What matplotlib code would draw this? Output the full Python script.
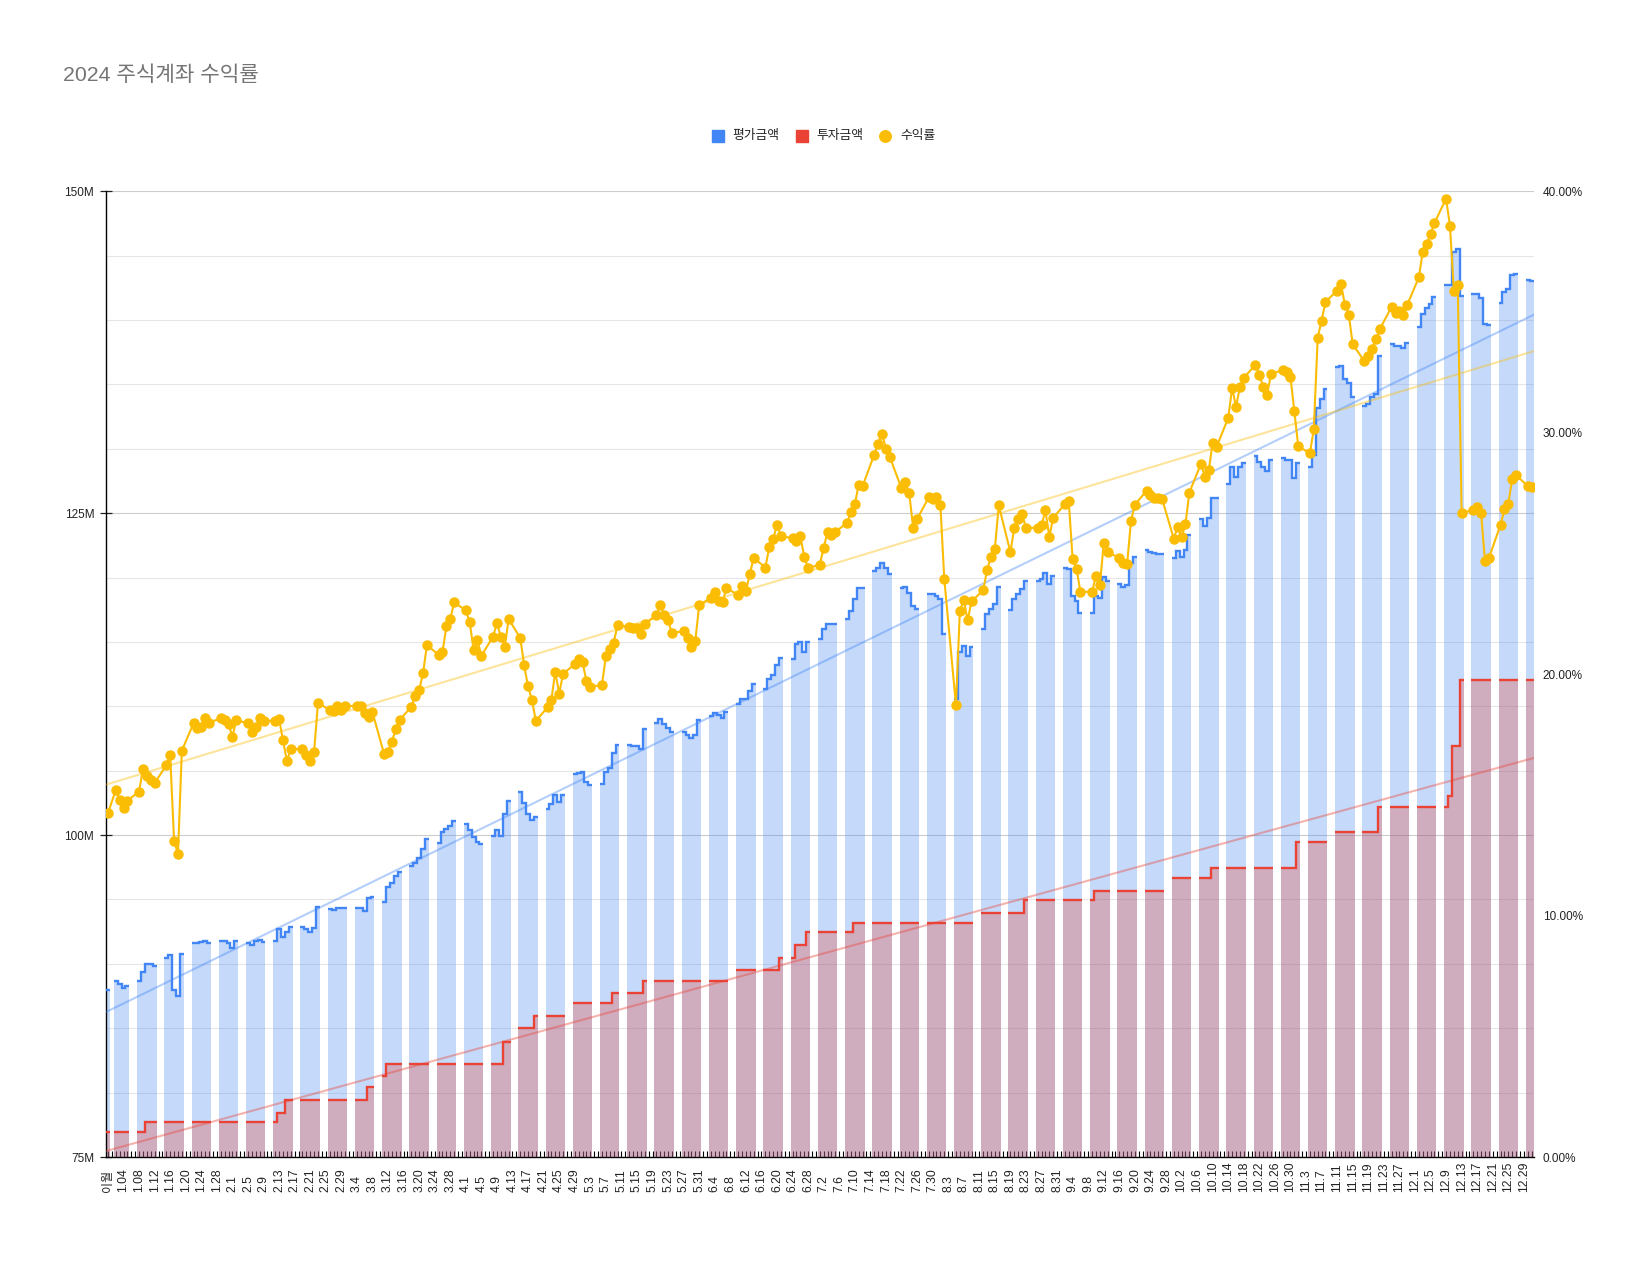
import numpy as np
import pandas as pd
import matplotlib
matplotlib.use('Agg')
import matplotlib.pyplot as plt
from matplotlib.lines import Line2D
from matplotlib.ticker import FuncFormatter, MultipleLocator, FixedLocator

plt.rcParams['font.family'] = ['Liberation Sans', 'Noto Sans CJK KR', 'DejaVu Sans']

TITLE = '2024 주식계좌 수익률'
NAME_VALUE = '평가금액'
NAME_INVEST = '투자금액'
NAME_YIELD = '수익률'
CARRY_LABEL = '이월'

# carried-over row (first category)
carry_value = 87.93
carry_invest = 76.97
carry_yield = 14.23

# 평가금액 (M KRW), one entry per weekday of each month (None = no record)
value_jan = [None, 88.65, 88.40, 88.10, 88.30, 88.70, 89.40, 90.00, 89.95, 89.80, 90.45, 90.70, 87.93, 87.48, 90.80,
             91.65, 91.60, 91.70, 91.75, 91.65, 91.80, 91.75, 91.65]
value_feb = [91.20, 91.75, 91.65, 91.50, 91.80, 91.85, 91.70, 91.80, 92.70, 92.10, 92.50, 92.85, 92.85, 92.70, 92.50,
             92.80, 94.45, 94.25, 94.20, 94.30, 94.30]
value_mar = [94.30, 94.32, 94.30, 94.07, 95.13, 95.20, 94.80, 95.95, 96.30, 96.80, 97.10, 97.58, 97.85, 98.24, 98.90,
             99.70, 99.39, 100.20, 100.46, 100.69, 101.10]
value_apr = [100.86, 100.36, 99.87, 99.50, 99.28, 99.93, 100.36, 99.93, 101.66, 102.65, 103.31, 102.49, 101.66, 101.18,
             101.44, 102.00, 102.42, 103.14, 102.55, 103.14, 104.77, 104.80]
value_may = [104.90, 104.10, 103.90, 104.00, 104.93, 105.19, 106.41, 107.03, 107.00, 106.95, 106.90, 106.70, 108.27,
             108.70, 109.00, 108.60, 108.35, 108.00, 108.04, 107.76, 107.50, 107.75, 108.97]
value_jun = [109.22, 109.51, 109.35, 109.07, 109.59, 110.20, 110.60, 110.55, 111.16, 111.71, 111.35, 112.15, 112.45,
             113.18, 113.73, 113.70, 114.80, 115.00, 114.25, 115.02]
value_jul = [115.26, 116.03, 116.42, 116.42, 116.42, 116.80, 117.38, 118.34, 119.18, 119.18, 120.47, 120.74, 121.12,
             120.74, 120.27, 119.18, 119.30, 118.80, 117.76, 117.56, 118.74, 118.70, 118.60]
value_aug = [118.34, 115.63, 110.60, 114.25, 114.65, 113.90, 114.60, 116.03, 117.18, 117.57, 117.95, 119.30, 117.50,
             118.34, 118.74, 119.10, 119.71, 119.71, 119.90, 120.36, 119.50, 120.10]
value_sep = [120.76, 120.70, 118.55, 118.20, 117.27, 117.27, 118.55, 118.40, 120.04, 119.74, 119.49, 119.30, 119.40,
             121.10, 121.62, 122.17, 121.97, 121.90, 121.80, 121.80, 121.53]
value_oct = [122.05, 121.60, 122.17, 123.32, 124.51, 124.00, 124.60, 126.21, 126.20, 127.28, 128.56, 127.84, 128.56,
             128.86, 129.41, 128.98, 128.56, 128.27, 129.10, 129.25, 129.10, 129.10, 127.70]
value_nov = [128.90, 128.55, 129.52, 133.16, 133.89, 134.61, 136.31, 136.40, 135.44, 135.10, 133.98, 133.30, 133.50,
             133.98, 134.27, 137.18, 138.15, 137.95, 138.00, 137.85, 138.20]
value_dec = [139.46, 140.43, 140.92, 141.26, 141.75, 142.72, 142.70, 145.25, 145.55, 141.90, 142.04, 142.00, 141.70,
             139.70, 139.60, 141.30, 142.14, 142.40, 143.50, 143.60, 143.10, 143.00]

# 투자금액 (M KRW)
invest_jan = [None, 76.97, 76.97, 76.97, 76.97, 76.97, 76.97, 77.74, 77.74, 77.74, 77.74, 77.74, 77.74, 77.74, 77.74,
              77.74, 77.74, 77.74, 77.74, 77.74, 77.74, 77.74, 77.74]
invest_feb = [77.74, 77.74, 77.74, 77.74, 77.74, 77.74, 77.74, 77.74, 78.44, 78.44, 79.43, 79.43, 79.43, 79.43, 79.43,
              79.43, 79.43, 79.43, 79.43, 79.43, 79.43]
invest_mar = [79.43, 79.43, 79.43, 79.43, 80.46, 80.46, 81.30, 82.20, 82.20, 82.20, 82.20, 82.20, 82.20, 82.20, 82.20,
              82.20, 82.20, 82.20, 82.20, 82.20, 82.20]
invest_apr = [82.20, 82.20, 82.20, 82.20, 82.20, 82.20, 82.20, 82.20, 83.95, 83.95, 85.00, 85.00, 85.00, 85.00, 85.98,
              85.98, 85.98, 85.98, 85.98, 85.98, 86.96, 86.96]
invest_may = [86.96, 86.96, 86.96, 86.96, 86.96, 86.96, 87.70, 87.70, 87.70, 87.70, 87.70, 87.70, 88.70, 88.70, 88.70,
              88.70, 88.70, 88.70, 88.70, 88.70, 88.70, 88.70, 88.70]
invest_jun = [88.70, 88.70, 88.70, 88.70, 88.70, 89.54, 89.54, 89.54, 89.54, 89.54, 89.54, 89.54, 89.54, 89.54, 90.45,
              90.45, 91.48, 91.48, 91.48, 92.47]
invest_jul = [92.47, 92.47, 92.47, 92.47, 92.47, 92.47, 92.47, 93.15, 93.15, 93.15, 93.15, 93.15, 93.15, 93.15, 93.15,
              93.15, 93.15, 93.15, 93.15, 93.15, 93.15, 93.15, 93.15]
invest_aug = [93.15, 93.15, 93.15, 93.15, 93.15, 93.15, 93.15, 93.93, 93.93, 93.93, 93.93, 93.93, 93.93, 93.93, 93.93,
              93.93, 94.97, 94.97, 94.97, 94.97, 94.97, 94.97]
invest_sep = [94.97, 94.97, 94.97, 94.97, 94.97, 94.97, 95.67, 95.67, 95.67, 95.67, 95.67, 95.67, 95.67, 95.67, 95.67,
              95.67, 95.67, 95.67, 95.67, 95.67, 96.70]
invest_oct = [96.70, 96.70, 96.70, 96.70, 96.70, 96.70, 96.70, 97.47, 97.47, 97.47, 97.47, 97.47, 97.47, 97.47, 97.47,
              97.47, 97.47, 97.47, 97.47, 97.47, 97.47, 97.47, 97.47]
invest_nov = [99.46, 99.46, 99.46, 99.46, 99.46, 99.46, 100.25, 100.25, 100.25, 100.25, 100.25, 100.25, 100.25, 100.25,
              100.25, 102.19, 102.19, 102.19, 102.19, 102.19, 102.19]
invest_dec = [102.19, 102.19, 102.19, 102.19, 102.19, 102.19, 103.06, 106.95, 106.95, 112.04, 112.04, 112.04, 112.04,
              112.04, 112.04, 112.04, 112.04, 112.04, 112.04, 112.04, 112.04, 112.04]

# 수익률 (%)
yield_jan = [None, 15.20, 14.79, 14.44, 14.76, 15.13, 16.07, 15.78, 15.61, 15.48, 16.23, 16.64, 13.10, 12.55, 16.83,
             17.96, 17.75, 17.82, 18.17, 17.99, 18.17, 18.10, 17.93]
yield_feb = [17.41, 18.10, 17.96, 17.62, 17.80, 18.17, 18.07, 18.07, 18.13, 17.27, 16.40, 16.90, 16.90, 16.65, 16.40,
             16.79, 18.82, 18.51, 18.48, 18.68, 18.51]
yield_mar = [18.68, 18.68, 18.68, 18.37, 18.21, 18.42, 16.69, 16.79, 17.20, 17.74, 18.10, 18.65, 19.11, 19.34, 20.03,
             21.20, 20.80, 20.90, 21.98, 22.28, 22.97]
yield_apr = [22.64, 22.15, 20.99, 21.40, 20.76, 21.55, 22.12, 21.55, 21.11, 22.28, 21.50, 20.36, 19.49, 18.93, 18.06,
             18.62, 18.93, 20.10, 19.19, 20.01, 20.41, 20.62]
yield_may = [20.50, 19.71, 19.48, 19.54, 20.75, 21.04, 21.30, 22.02, 21.97, 21.92, 21.92, 21.67, 22.06, 22.45, 22.86,
             22.45, 22.22, 21.69, 21.79, 21.50, 21.14, 21.39, 22.86]
yield_jun = [23.16, 23.39, 23.04, 23.00, 23.55, 23.29, 23.64, 23.45, 24.13, 24.82, 24.41, 25.25, 25.60, 26.18, 25.70,
             25.64, 25.50, 25.72, 24.86, 24.39]
yield_jul = [24.53, 25.24, 25.90, 25.75, 25.90, 26.25, 26.72, 27.03, 27.85, 27.79, 29.09, 29.54, 29.96, 29.34, 28.99,
             27.69, 27.96, 27.48, 26.06, 26.41, 27.32, 27.24, 27.35]
yield_aug = [26.99, 23.94, 18.72, 22.60, 23.07, 22.23, 23.01, 23.47, 24.31, 24.87, 25.17, 26.99, 25.05, 26.06, 26.41,
             26.62, 26.06, 26.06, 26.16, 26.78, 25.69, 26.47]
yield_sep = [27.04, 27.16, 24.75, 24.36, 23.41, 23.41, 24.07, 23.68, 25.43, 25.04, 24.82, 24.59, 24.55, 26.34, 27.02,
             27.59, 27.43, 27.30, 27.28, 27.25, 25.61]
yield_oct = [26.11, 25.67, 26.21, 27.52, 28.72, 28.16, 28.45, 29.59, 29.41, 30.61, 31.86, 31.06, 31.90, 32.27, 32.81,
             32.38, 31.90, 31.58, 32.43, 32.59, 32.50, 32.31, 30.88]
yield_nov = [29.43, 29.15, 30.16, 33.94, 34.64, 35.42, 35.88, 36.14, 35.29, 34.87, 33.66, 32.96, 33.17, 33.48, 33.86,
             34.30, 35.21, 34.97, 35.02, 34.89, 35.29]
yield_dec = [36.43, 37.49, 37.80, 38.21, 38.68, 39.69, 38.57, 35.85, 36.10, 26.67, 26.80, 26.93, 26.67, 24.67, 24.80,
             26.18, 26.82, 27.06, 28.09, 28.25, 27.78, 27.73]

BLUE = '#4285F4'
RED = '#EA4335'
YELLOW = '#FBBC04'

# ---------------------------------------------------------------- build daily series
dates = pd.date_range('2024-01-01', '2024-12-31', freq='D')
labels = [CARRY_LABEL] + [(f'{d.month}.{d.day:02d}' if d.month == 1 else f'{d.month}.{d.day}') for d in dates]


def build(months, carry):
    out = [carry]
    pos = [0] * 12
    for d in dates:
        if d.weekday() < 5:
            m = d.month - 1
            v = months[m][pos[m]]
            pos[m] += 1
            out.append(np.nan if v is None else v)
        else:
            out.append(np.nan)
    return np.array(out, dtype=float)


value = build([value_jan, value_feb, value_mar, value_apr, value_may, value_jun, value_jul, value_aug,
               value_sep, value_oct, value_nov, value_dec], carry_value)
invest = build([invest_jan, invest_feb, invest_mar, invest_apr, invest_may, invest_jun, invest_jul, invest_aug,
                invest_sep, invest_oct, invest_nov, invest_dec], carry_invest)
yld = build([yield_jan, yield_feb, yield_mar, yield_apr, yield_may, yield_jun, yield_jul, yield_aug,
             yield_sep, yield_oct, yield_nov, yield_dec], carry_yield)

N = len(labels)
xs = np.arange(N)


def runs(arr):
    idx = np.where(~np.isnan(arr))[0]
    splits = np.where(np.diff(idx) > 1)[0] + 1
    return np.split(idx, splits)


def trend(arr):
    m = ~np.isnan(arr)
    k, b = np.polyfit(xs[m], arr[m], 1)
    xx = np.array([-0.5, N - 0.5])
    return xx, k * xx + b


# ---------------------------------------------------------------- figure
W, H = 1647, 1264
fig = plt.figure(figsize=(W / 100, H / 100), dpi=100)
L, R, T, B = 106 / W, 1533.6 / W, 191.2 / H, 1157 / H
ax = fig.add_axes([L, 1 - B, R - L, B - T])
ax2 = ax.twinx()

YMIN = 75
for arr, col in ((value, BLUE), (invest, RED)):
    for run in runs(arr):
        edges = np.append(run - 0.5, run[-1] + 0.5)
        ax.stairs(arr[run], edges, baseline=YMIN, fill=True, facecolor=col, edgecolor='none',
                  alpha=0.3, zorder=2)
    for run in runs(arr):
        edges = np.append(run - 0.5, run[-1] + 0.5)
        ax.stairs(arr[run], edges, baseline=None, color=col, lw=1.7, zorder=3)

tx, ty = trend(value)
ax.plot(tx, ty, color=BLUE, alpha=0.4, lw=1.5, zorder=4)
tx, ty = trend(invest)
ax.plot(tx, ty, color=RED, alpha=0.4, lw=1.5, zorder=4)

ax.set_xlim(-0.5, N - 0.5)
ax.set_ylim(75, 150)
ax.yaxis.set_major_locator(FixedLocator([75, 100, 125, 150]))
ax.yaxis.set_minor_locator(MultipleLocator(5))
ax.yaxis.set_major_formatter(FuncFormatter(lambda v, p: f'{int(v)}M'))
ax.grid(which='major', axis='y', color='#cccccc', lw=0.8)
ax.grid(which='minor', axis='y', color='#e6e6e6', lw=0.8)
ax.set_axisbelow(True)
ax.tick_params(axis='y', which='major', direction='inout', length=9, width=0.9, labelsize=8.5,
               pad=4, colors='#222222')
ax.tick_params(axis='y', which='minor', length=0)

ax.set_xticks(xs)
ax.set_xticklabels([lab if i % 4 == 0 else '' for i, lab in enumerate(labels)],
                   rotation=90, fontsize=8.7, va='bottom', color='#222222')
ax.tick_params(axis='x', direction='in', length=4, width=0.8, pad=25)

for s in ('top', 'right'):
    ax.spines[s].set_visible(False)
ax.spines['left'].set_color('#000000')
ax.spines['bottom'].set_color('#000000')
ax.spines['left'].set_linewidth(1.0)
ax.spines['bottom'].set_linewidth(1.0)

# yield on right axis
tx, ty = trend(yld)
ax2.plot(tx, ty, color=YELLOW, alpha=0.4, lw=1.5, zorder=2)
m = ~np.isnan(yld)
ax2.plot(xs[m], yld[m], color=YELLOW, lw=1.5, marker='o', markersize=6.5, zorder=3)
ax2.set_ylim(0, 40)
ax2.yaxis.set_major_locator(FixedLocator([0, 10, 20, 30, 40]))
ax2.yaxis.set_major_formatter(FuncFormatter(lambda v, p: f'{v:.2f}%'))
ax2.tick_params(axis='y', length=0, pad=6.5, labelsize=8.5, colors='#222222')
for s in ax2.spines.values():
    s.set_visible(False)
ax2.set_xlim(-0.5, N - 0.5)

# title
fig.text(63 / W, 1 - 75 / H, TITLE, fontsize=15.3, color='#757575', ha='left', va='center')

# legend (manual)
ly = 1 - 135.7 / H
items = [(717.5, 732.7, 's', BLUE, NAME_VALUE), (801.5, 816.7, 's', RED, NAME_INVEST),
         (885.3, 900.7, 'o', YELLOW, NAME_YIELD)]
for mx, tx0, mk, col, name in items:
    fig.add_artist(Line2D([mx / W], [ly], marker=mk, markersize=8.3, color=col, linestyle='none',
                          transform=fig.transFigure))
    fig.text(tx0 / W, ly, name, fontsize=9.2, color='#222222', ha='left', va='center')

fig.savefig('out.png', dpi=100)
